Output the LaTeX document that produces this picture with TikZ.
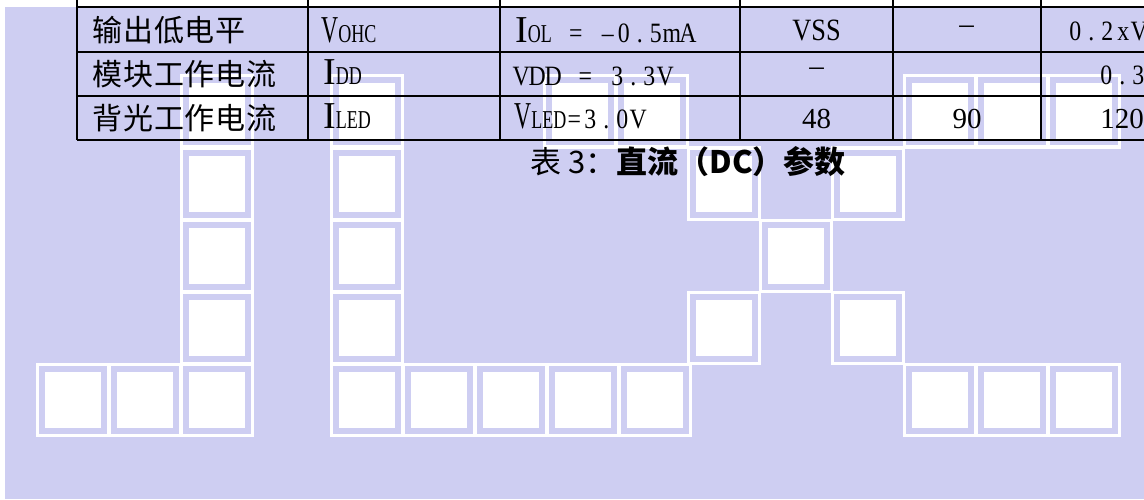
\documentclass[tikz,border=0pt]{standalone}
\usepackage{fontspec}
\newfontfamily\cjk{Noto Sans CJK SC}
\newfontfamily\cjkt[LetterSpace=3]{Noto Sans CJK SC}
\newfontfamily\tnr{Liberation Serif}
\newfontfamily\tnrs[FakeStretch=0.85]{Liberation Serif}
\newfontfamily\bigVf[FakeStretch=0.62]{Liberation Serif}
\newfontfamily\subf[FakeStretch=0.7]{Liberation Serif}
\newfontfamily\monof[FakeStretch=0.85]{Liberation Serif}
\definecolor{lav}{RGB}{206,206,242}
\newcommand\CJKtab{\cjkt\fontsize{22.5pt}{24pt}\selectfont}
\newcommand\BigI[1]{{\tnr\fontsize{28.5pt}{30pt}\selectfont #1}}
\newcommand\BigV[1]{{\bigVf\fontsize{28.5pt}{30pt}\selectfont #1}}
\newcommand\Sub[1]{{\subf\fontsize{19.3pt}{20pt}\selectfont #1}}
% fixed-pitch setting: each character in a 16px (12pt) box
\def\MSend{\MSend}
\def\MSi#1{\ifx#1\MSend\else\makebox[12pt][c]{#1}\expandafter\MSi\fi}
\newcommand\Mono[1]{{\monof\fontsize{21pt}{23pt}\selectfont\MSi#1\MSend}}
\tikzset{
  cellline/.style={draw=white, line width=2.25pt},
  tabline/.style={draw=black, line width=1.6pt},
  cn/.style={anchor=west, inner sep=0pt, font=\CJKtab},
  lat/.style={anchor=base west, inner sep=0pt},
  num/.style={anchor=base, inner sep=0pt, font={\tnr\fontsize{21.75pt}{23pt}\selectfont}},
}
\begin{document}
\begin{tikzpicture}[x=0.75pt,y=-0.75pt]
\useasboundingbox (0,0) rectangle (1144,499);
\clip (0,0) rectangle (1144,499);
\fill[white] (0,0) rectangle (1144,499);
\fill[lav] (5,7) rectangle (1144,499);
% logo cells
\foreach \x/\r in {36/4,108/4,180/0,180/1,180/2,180/3,180/4,
  330/0,330/1,330/2,330/3,330/4,402/4,474/4,546/4,618/4,
  543/0,615/0,903/0,975/0,1047/0,687/1,831/1,759/2,687/3,831/3,903/4,975/4,1047/4}{
  \draw[cellline] ({\x+1.5},{74.5+72*\r+1.5}) rectangle ({\x+72.5},{74.5+72*\r+72.5});
  \fill[white] ({\x+9},{74.5+72*\r+9}) rectangle ({\x+65},{74.5+72*\r+65});
}
% table lines
\foreach \xx in {77,308,500,740,893,1041}{
  \draw[tabline] (\xx,0) -- (\xx,140);
}
\foreach \yy in {7,52,96,140}{
  \draw[tabline] (77,\yy) -- (1144,\yy);
}
% row 1
\node[cn] (r1c1) at (92,30.5) {输出低电平};
\node[lat] (r1c2) at (321,43) {\BigV{V}\Sub{OHC}};
\node[lat] (r1c3) at (515,43) {\BigI{I}\Sub{OL}\Mono{~=~–0.5mA}};
\node[anchor=base, inner sep=0pt, font={\tnrs\fontsize{23.25pt}{25pt}\selectfont}] (r1c4) at (816.5,41) {VSS};
\node[num, anchor=center] (r1c5) at (966.5,30) {–};
\node[lat] (r1c6) at (1067,41) {\Mono{0.2xV}};
% row 2
\node[cn] (r2c1) at (92,74.5) {模块工作电流};
\node[lat] (r2c2) at (323,85) {\BigI{I}\Sub{DD}};
\node[lat] (r2c3) at (513,86) {\Mono{VDD~=~3.3V}};
\node[num, anchor=center] (r2c4) at (816.5,72) {–};
\node[lat] (r2c6) at (1098,85) {\Mono{0.3}};
% row 3
\node[cn] (r3c1) at (92,118.5) {背光工作电流};
\node[lat] (r3c2) at (323,128) {\BigI{I}\Sub{LED}};
\node[lat] (r3c3) at (514,128) {\BigV{V}\Sub{LED}\Mono{=3.0V}};
\node[num] (r3c4) at (816.5,129) {48};
\node[num] (r3c5) at (967,129) {90};
\node[num] (r3c6) at (1122,129) {120};
% caption
\node[inner sep=0pt, font={\cjk\fontsize{23.25pt}{25pt}\selectfont}] (cap) at (688,162) {表 3：{\bfseries 直流（DC）参数}};
\end{tikzpicture}
\end{document}
